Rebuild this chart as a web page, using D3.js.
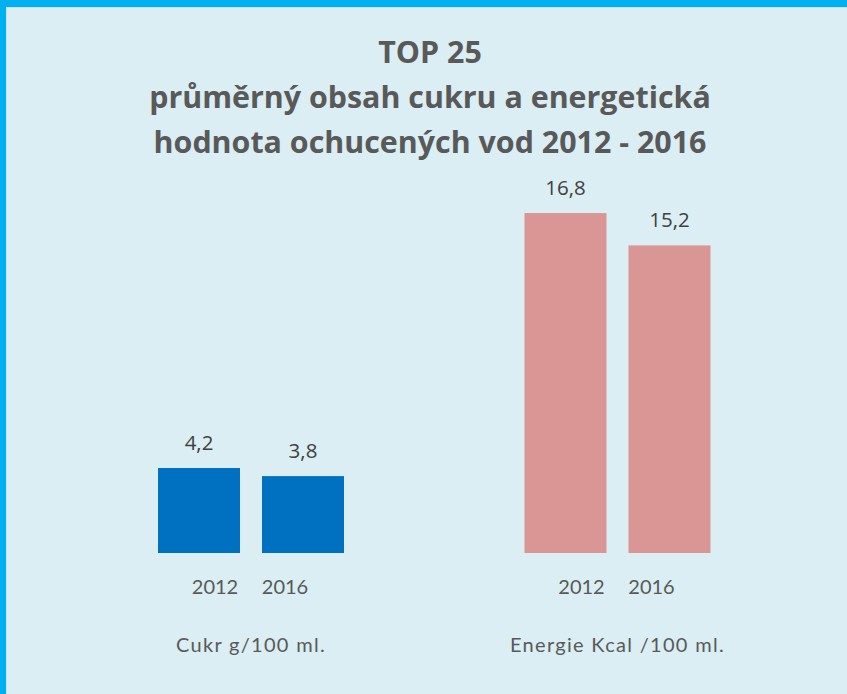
<!DOCTYPE html>
<html>
<head>
<meta charset="utf-8">
<script src="https://cdn.jsdelivr.net/npm/d3@7"></script>
<style>
  html, body { margin: 0; padding: 0; background: #daeef3; }
  #chart { width: 847px; height: 694px; }
</style>
</head>
<body>
<div id="chart"></div>
<script>
// data
const titleLines = ["TOP 25", "průměrný obsah cukru a energetická", "hodnota ochucených vod 2012 - 2016"];
const categories = ["Cukr g/100 ml.", "Energie Kcal /100 ml."];
const years = ["2012", "2016"];
const values2012 = [4.2, 16.8];
const values2016 = [3.8, 15.2];
const barColors = ["#0070c0", "#da9694"];

const width = 847, height = 694;

let svg = d3.select("#chart")
            .append("svg")
            .attr("width", width)
            .attr("height", height);

//background + frame (blue line top and left)
svg.append("rect").attr("width", width).attr("height", height).attr("fill", "#daeef3");
svg.append("rect").attr("x", 0).attr("y", 0).attr("width", width).attr("height", 7).attr("fill", "#00b0f0");
svg.append("rect").attr("x", 0).attr("y", 0).attr("width", 6).attr("height", height).attr("fill", "#00b0f0");
svg.append("rect").attr("x", 6).attr("y", 7).attr("width", width - 6).attr("height", 1).attr("fill", "#c4e6f3");
svg.append("rect").attr("x", 6).attr("y", 7).attr("width", 1).attr("height", height - 7).attr("fill", "#c4e6f3");

//title
svg.append("g")
   .selectAll("text")
   .data(titleLines)
   .enter()
   .append("text")
   .attr("x", 430)
   .attr("y", function(d, i) { return 63 + i * 45; })
   .attr("text-anchor", "middle")
   .style("font-family", "'Open Sans', sans-serif")
   .style("font-weight", "bold")
   .style("font-size", "30.4px")
   .style("fill", "#595959")
   .text(function(d) { return d; });

//scales
let x0 = d3.scalePoint().domain(categories).range([251, 617.5]);   // group centres
let x1 = d3.scaleBand().domain(years).range([-93, 93]).paddingInner(0.2115);
let xLab = d3.scalePoint().domain(years).range([-36, 34]);          // year labels sit closer together
let y = d3.scaleLinear().domain([0, 17]).range([553, 209]);

// rows: one per bar
let rows = [];
categories.forEach(function(c, i) {
  rows.push({ cat: c, year: "2012", value: values2012[i], color: barColors[i] });
  rows.push({ cat: c, year: "2016", value: values2016[i], color: barColors[i] });
});

//bars
svg.append("g")
   .selectAll("rect")
   .data(rows)
   .enter()
   .append("rect")
   .attr("x", function(d) { return x0(d.cat) + x1(d.year); })
   .attr("y", function(d) { return y(d.value); })
   .attr("width", x1.bandwidth())
   .attr("height", function(d) { return y(0) - y(d.value); })
   .attr("fill", function(d) { return d.color; });

//value labels
svg.append("g")
   .selectAll("text")
   .data(rows)
   .enter()
   .append("text")
   .attr("x", function(d) { return x0(d.cat) + x1(d.year) + x1.bandwidth() / 2; })
   .attr("y", function(d) { return y(d.value) - 18; })
   .attr("text-anchor", "middle")
   .style("font-family", "'Open Sans', sans-serif")
   .style("font-size", "20.5px")
   .style("fill", "#404040")
   .text(function(d) { return d3.format(".1f")(d.value).replace(".", ","); });

//year labels
svg.append("g")
   .selectAll("text")
   .data(rows)
   .enter()
   .append("text")
   .attr("x", function(d) { return x0(d.cat) + xLab(d.year); })
   .attr("y", 594)
   .attr("text-anchor", "middle")
   .style("font-family", "Lato, sans-serif")
   .style("font-size", "20px")
   .style("fill", "#595959")
   .text(function(d) { return d.year; });

//category labels
svg.append("g")
   .selectAll("text")
   .data(categories)
   .enter()
   .append("text")
   .attr("x", function(d) { return x0(d); })
   .attr("y", 652)
   .attr("text-anchor", "middle")
   .style("font-family", "Lato, sans-serif")
   .style("font-size", "20px")
   .style("letter-spacing", "1.3px")
   .style("fill", "#595959")
   .text(function(d) { return d; });
</script>
</body>
</html>
